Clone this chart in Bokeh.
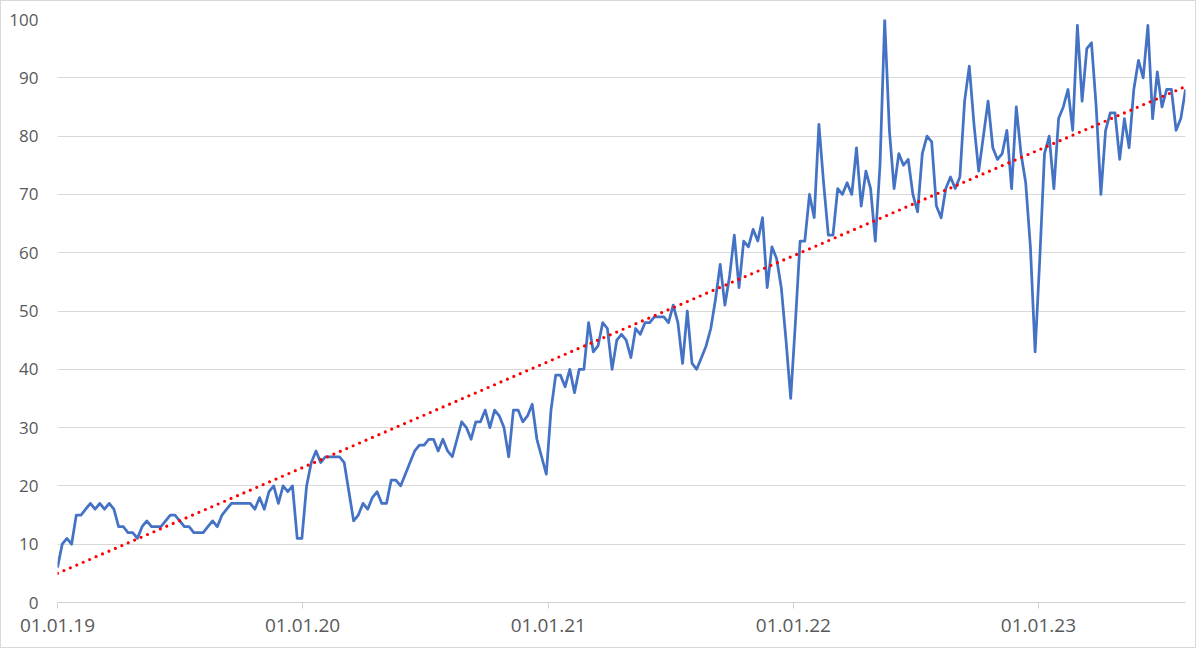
import pandas as pd
from bokeh.plotting import figure
from bokeh.models import FixedTicker, DatetimeTickFormatter, Range1d
from bokeh.embed import file_html
from bokeh.resources import INLINE

# ---- data (weekly values) ----
start_date = "2019-01-01"
values = [
    6, 10, 11, 10, 15, 15, 16, 17, 16, 17, 16, 17, 16, 13, 13, 12, 12, 11, 13, 14,
    13, 13, 13, 14, 15, 15, 14, 13, 13, 12, 12, 12, 13, 14, 13, 15, 16, 17, 17, 17,
    17, 17, 16, 18, 16, 19, 20, 17, 20, 19, 20, 11, 11, 20, 24, 26, 24, 25, 25, 25,
    25, 24, 19, 14, 15, 17, 16, 18, 19, 17, 17, 21, 21, 20, 22, 24, 26, 27, 27, 28,
    28, 26, 28, 26, 25, 28, 31, 30, 28, 31, 31, 33, 30, 33, 32, 30, 25, 33, 33, 31,
    32, 34, 28, 25, 22, 33, 39, 39, 37, 40, 36, 40, 40, 48, 43, 44, 48, 47, 40, 45,
    46, 45, 42, 47, 46, 48, 48, 49, 49, 49, 48, 51, 48, 41, 50, 41, 40, 42, 44, 47,
    52, 58, 51, 56, 63, 54, 62, 61, 64, 62, 66, 54, 61, 59, 54, 45, 35, 48, 62, 62,
    70, 66, 82, 72, 63, 63, 71, 70, 72, 70, 78, 68, 74, 71, 62, 75, 100, 81, 71, 77,
    75, 76, 70, 67, 77, 80, 79, 68, 66, 71, 73, 71, 73, 86, 92, 82, 74, 80, 86, 78,
    76, 77, 81, 71, 85, 77, 72, 61, 43, 59, 77, 80, 71, 83, 85, 88, 81, 99, 86, 95,
    96, 85, 70, 81, 84, 84, 76, 83, 78, 88, 93, 90, 99, 83, 91, 85, 88, 88, 81, 83,
    88,
]
# linear trendline values at the first and last week
trend_values = [5.0, 88.5]
tick_years = [2019, 2020, 2021, 2022, 2023]
y_ticks = [0, 10, 20, 30, 40, 50, 60, 70, 80, 90, 100]

dates = pd.date_range(start_date, periods=len(values), freq="7D")
trend_dates = [dates[0], dates[-1]]

FONT = "Open Sans"
LABEL_COLOR = "#595959"
GRID_COLOR = "#d9d9d9"

p = figure(
    width=1196, height=648,
    x_axis_type="datetime",
    output_backend="svg",
    toolbar_location=None,
    x_range=Range1d(dates[0], dates[-1]),
    y_range=Range1d(0, 100),
    min_border_left=56, min_border_right=12,
    min_border_top=18, min_border_bottom=47,
)
p.outline_line_color = None
p.background_fill_color = "white"
p.border_fill_color = "white"
p.styles = {"border": "1px solid #d9d9d9"}

p.line(dates, values, line_color="#4472C4", line_width=2.75, line_join="round")
p.line(trend_dates, trend_values, line_color="#FF0000", line_width=3.2,
       line_dash="0 7", line_cap="round")

# x axis
tick_ms = [pd.Timestamp(f"{y}-01-01").value / 1e6 for y in tick_years]
p.xaxis.ticker = FixedTicker(ticks=tick_ms)
fmt = "%d.%m.%y"
p.xaxis.formatter = DatetimeTickFormatter(
    years=fmt, months=fmt, days=fmt, hours=fmt, minutes=fmt,
    seconds=fmt, milliseconds=fmt, microseconds=fmt, minsec=fmt, hourmin=fmt,
)
p.xaxis.axis_line_color = "#d0d0d0"
p.xaxis.major_tick_line_color = "#d0d0d0"
p.xaxis.major_tick_out = 6
p.xaxis.major_tick_in = 0
p.xaxis.minor_tick_line_color = None
p.xaxis.major_label_standoff = 10
p.xaxis.major_label_text_font = FONT
p.xaxis.major_label_text_font_size = "19px"
p.xaxis.major_label_text_color = LABEL_COLOR
p.xgrid.grid_line_color = None

# y axis
p.yaxis.ticker = FixedTicker(ticks=y_ticks)
p.yaxis.axis_line_color = None
p.yaxis.major_tick_line_color = None
p.yaxis.minor_tick_line_color = None
p.yaxis.major_tick_out = 0
p.yaxis.major_tick_in = 0
p.yaxis.major_label_standoff = 19
p.yaxis.major_label_text_font = FONT
p.yaxis.major_label_text_font_size = "17px"
p.yaxis.major_label_text_color = LABEL_COLOR
p.ygrid.ticker = FixedTicker(ticks=y_ticks)
p.ygrid.grid_line_color = GRID_COLOR
p.ygrid.grid_line_width = 1

open("out.html", "w").write(file_html(p, INLINE))
